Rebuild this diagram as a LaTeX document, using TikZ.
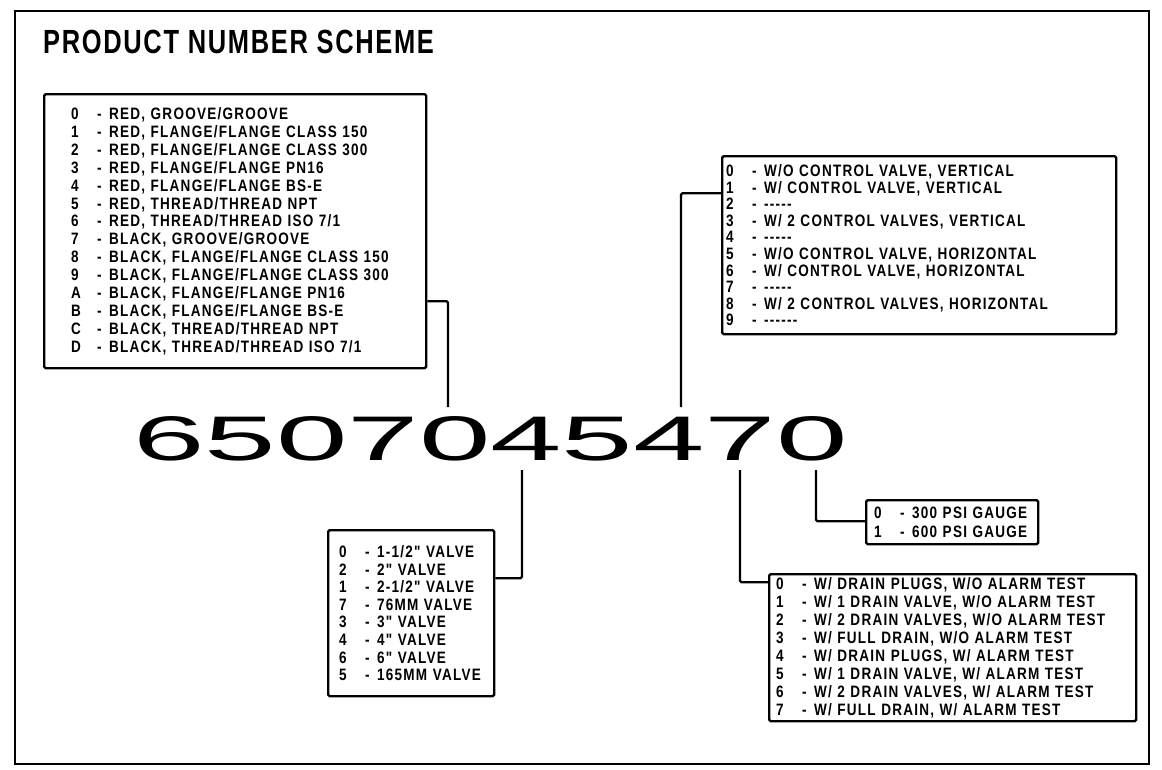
\documentclass[tikz,border=0pt]{standalone}
\usepackage{fontspec}
\setmainfont{Liberation Sans}
\newfontfamily\cadfont[FakeStretch=0.82,LetterSpace=7.5]{Liberation Sans}
\newfontfamily\titlefont[FakeStretch=0.76,LetterSpace=5]{Liberation Sans}
\newfontfamily\bignum[FakeStretch=2.04]{Liberation Sans}
\newcommand\rowitem[2]{\makebox[26pt][l]{#1}\makebox[12pt][l]{-}#2}
\begin{document}
\begin{tikzpicture}[x=1pt,y=-1pt,
  listbox/.style={draw, line width=2.4pt, rounded corners=1.5pt, anchor=north west, align=left, inner ysep=0pt},
  conn/.style={draw, line width=2.4pt, rounded corners=1.5pt},
  cadtext/.style={font=\cadfont\bfseries\fontsize{16.5}{#1}\selectfont}
  ]
\useasboundingbox (0,0) rectangle (1162,769);
\draw[line width=2.2pt] (15,11) rectangle (1149,764);

\node[anchor=base west, inner sep=0pt, font=\titlefont\bfseries\fontsize{33.5}{36}\selectfont] (title) at (43,53) {PRODUCT NUMBER SCHEME};

\node[listbox, inner xsep=27pt, text width=328pt, minimum height=274pt, cadtext=17.9] (L) at (43,93) {%
\rowitem{0}{RED, GROOVE/GROOVE}\\
\rowitem{1}{RED, FLANGE/FLANGE CLASS 150}\\
\rowitem{2}{RED, FLANGE/FLANGE CLASS 300}\\
\rowitem{3}{RED, FLANGE/FLANGE PN16}\\
\rowitem{4}{RED, FLANGE/FLANGE BS-E}\\
\rowitem{5}{RED, THREAD/THREAD NPT}\\
\rowitem{6}{RED, THREAD/THREAD ISO 7/1}\\
\rowitem{7}{BLACK, GROOVE/GROOVE}\\
\rowitem{8}{BLACK, FLANGE/FLANGE CLASS 150}\\
\rowitem{9}{BLACK, FLANGE/FLANGE CLASS 300}\\
\rowitem{A}{BLACK, FLANGE/FLANGE PN16}\\
\rowitem{B}{BLACK, FLANGE/FLANGE BS-E}\\
\rowitem{C}{BLACK, THREAD/THREAD NPT}\\
\rowitem{D}{BLACK, THREAD/THREAD ISO 7/1}};

\node[listbox, inner xsep=4pt, text width=386pt, minimum height=178pt, cadtext=16.6] (R) at (721,155) {%
\rowitem{0}{W/O CONTROL VALVE, VERTICAL}\\
\rowitem{1}{W/ CONTROL VALVE, VERTICAL}\\
\rowitem{2}{-----}\\
\rowitem{3}{W/ 2 CONTROL VALVES, VERTICAL}\\
\rowitem{4}{-----}\\
\rowitem{5}{W/O CONTROL VALVE, HORIZONTAL}\\
\rowitem{6}{W/ CONTROL VALVE, HORIZONTAL}\\
\rowitem{7}{-----}\\
\rowitem{8}{W/ 2 CONTROL VALVES, HORIZONTAL}\\
\rowitem{9}{------}};

\node[anchor=base west, inner sep=0pt, font=\bignum\fontsize{63}{63}\selectfont] (num) at (133,460) {6507045470};

\node[listbox, inner xsep=11pt, text width=144pt, minimum height=166pt, cadtext=17.6] (M) at (327,529) {%
\rowitem{0}{1-1/2" VALVE}\\
\rowitem{2}{2" VALVE}\\
\rowitem{1}{2-1/2" VALVE}\\
\rowitem{7}{76MM VALVE}\\
\rowitem{3}{3" VALVE}\\
\rowitem{4}{4" VALVE}\\
\rowitem{6}{6" VALVE}\\
\rowitem{5}{165MM VALVE}};

\node[listbox, inner xsep=8pt, text width=156pt, minimum height=44pt, cadtext=19] (S) at (865,499) {%
\rowitem{0}{300 PSI GAUGE}\\
\rowitem{1}{600 PSI GAUGE}};

\node[listbox, inner xsep=7pt, text width=353pt, minimum height=147pt, cadtext=18] (B) at (768,573) {%
\rowitem{0}{W/ DRAIN PLUGS, W/O ALARM TEST}\\
\rowitem{1}{W/ 1 DRAIN VALVE, W/O ALARM TEST}\\
\rowitem{2}{W/ 2 DRAIN VALVES, W/O ALARM TEST}\\
\rowitem{3}{W/ FULL DRAIN, W/O ALARM TEST}\\
\rowitem{4}{W/ DRAIN PLUGS, W/ ALARM TEST}\\
\rowitem{5}{W/ 1 DRAIN VALVE, W/ ALARM TEST}\\
\rowitem{6}{W/ 2 DRAIN VALVES, W/ ALARM TEST}\\
\rowitem{7}{W/ FULL DRAIN, W/ ALARM TEST}};

\coordinate (c1) at (448,407);
\coordinate (c2) at (681,407);
\coordinate (c3) at (522,470);
\coordinate (c4) at (740,470);
\coordinate (c5) at (816,470);

\draw[conn] ([yshift=-70pt]L.east) -| (c1);
\draw[conn] ([yshift=52pt]R.west) -| (c2);
\draw[conn] ([yshift=35pt]M.east) -| (c3);
\draw[conn] ([yshift=1pt]S.west) -| (c5);
\draw[conn] ([yshift=65.5pt]B.west) -| (c4);
\end{tikzpicture}
\end{document}
